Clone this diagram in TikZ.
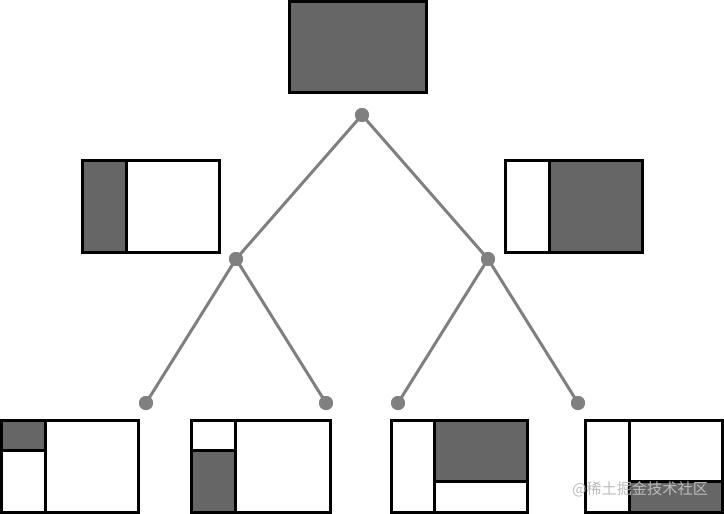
\documentclass[tikz,border=0pt]{standalone}
\usepackage{fontspec}
\newfontfamily\cjk{Noto Sans CJK SC}
\definecolor{fillg}{HTML}{666666}
\definecolor{lineg}{HTML}{808080}
\definecolor{wmark}{HTML}{BBBBBB}
\begin{document}
\begin{tikzpicture}[x=1pt,y=-1pt,
  box/.style={line width=3pt,draw=black},
  part/.style={fill=fillg},
  dot/.style={circle,fill=lineg,inner sep=0pt,minimum size=14pt},
  edge/.style={draw=lineg,line width=3pt}]
\useasboundingbox (0,0) rectangle (724,514);
% top
\fill[part] (289.5,1.5) rectangle (426,92.5);
\draw[box] (289.5,1.5) rectangle (426,92.5);
% middle left
\fill[part] (82.5,160.5) rectangle (126.5,252.5);
\draw[box] (82.5,160.5) rectangle (219,252.5);
\draw[box] (126.5,160.5) -- (126.5,252.5);
% middle right
\fill[part] (549.5,160.5) rectangle (642,252.5);
\draw[box] (505.5,160.5) rectangle (642,252.5);
\draw[box] (549.5,160.5) -- (549.5,252.5);
% bottom 1
\fill[part] (1.5,420.5) rectangle (45.5,450.5);
\draw[box] (1.5,420.5) rectangle (138.5,512);
\draw[box] (45.5,420.5) -- (45.5,512);
\draw[box] (1.5,450.5) -- (45.5,450.5);
% bottom 2
\fill[part] (191.5,450.5) rectangle (235,512);
\draw[box] (191.5,420.5) rectangle (330,512);
\draw[box] (235,420.5) -- (235,512);
\draw[box] (191.5,450.5) -- (235,450.5);
% bottom 3
\fill[part] (434.5,420.5) rectangle (527,481.5);
\draw[box] (391,420.5) rectangle (527,512);
\draw[box] (434.5,420.5) -- (434.5,512);
\draw[box] (434.5,481.5) -- (527,481.5);
% bottom 4
\fill[part] (629.5,481.5) rectangle (722,512);
\draw[box] (585.5,420.5) rectangle (722,512);
\draw[box] (629.5,420.5) -- (629.5,512);
\draw[box] (629.5,481.5) -- (722,481.5);
% tree
\node[dot] (r) at (362,115) {};
\node[dot] (l) at (236,259) {};
\node[dot] (rr) at (488,259) {};
\node[dot] (l1) at (146,403) {};
\node[dot] (l2) at (326,403) {};
\node[dot] (l3) at (398,403) {};
\node[dot] (l4) at (578,403) {};
\draw[edge] (r.center) -- (l.center);
\draw[edge] (r.center) -- (rr.center);
\draw[edge] (l.center) -- (l1.center);
\draw[edge] (l.center) -- (l2.center);
\draw[edge] (rr.center) -- (l3.center);
\draw[edge] (rr.center) -- (l4.center);
\node[dot] at (r) {};
\node[dot] at (l) {};
\node[dot] at (rr) {};
\node[dot] at (l1) {};
\node[dot] at (l2) {};
\node[dot] at (l3) {};
\node[dot] at (l4) {};
% watermark
\node[font=\cjk\fontsize{15.2}{16}\selectfont,text=wmark,inner sep=0pt] (wm) at (640,489) {@稀土掘金技术社区};
\end{tikzpicture}
\end{document}
